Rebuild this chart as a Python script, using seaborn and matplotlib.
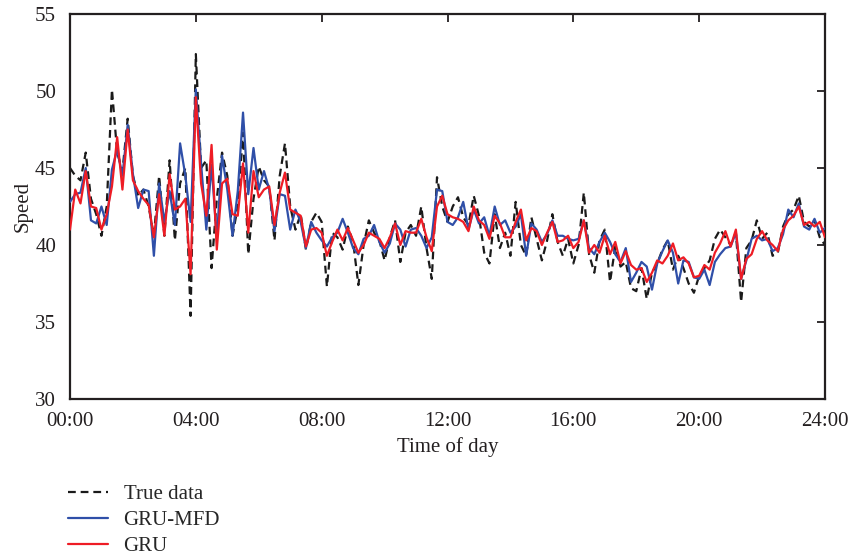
import numpy as np
import pandas as pd
import matplotlib
matplotlib.use("Agg")
import matplotlib.pyplot as plt
import seaborn as sns

# 10-minute samples over one day (145 points, 00:00 .. 24:00)
true_data = [
    45.0, 44.5, 44.2, 46.0, 43.0, 42.0, 40.6, 42.5, 50.1, 46.0, 44.8, 48.2,
    44.5, 43.2, 43.6, 42.5, 40.6, 44.5, 40.6, 45.5, 40.3, 44.0, 45.0, 35.4,
    52.4, 45.0, 45.5, 38.5, 43.0, 46.0, 44.5, 40.6, 42.5, 47.3, 39.4, 43.0,
    45.1, 44.2, 43.8, 40.3, 44.5, 46.6, 42.5, 41.0, 42.0, 39.7, 41.5, 42.1,
    41.5, 37.3, 40.8, 40.5, 39.7, 41.2, 40.2, 37.4, 40.0, 41.6, 40.8, 40.3,
    39.0, 40.5, 41.6, 38.9, 40.8, 41.3, 40.6, 42.5, 39.8, 37.8, 44.4, 42.5,
    41.5, 42.5, 43.1, 41.8, 41.3, 43.2, 41.9, 39.5, 38.8, 42.0, 39.8, 40.8,
    39.3, 42.8, 40.0, 39.3, 41.8, 40.4, 39.0, 40.3, 42.0, 40.2, 39.3, 40.4,
    38.8, 40.0, 43.4, 39.4, 38.2, 40.3, 41.0, 37.6, 39.9, 38.6, 38.9, 37.2,
    37.0, 38.5, 36.5, 38.2, 38.8, 39.7, 40.3, 38.4, 39.3, 38.5, 37.5, 36.9,
    38.0, 38.5, 39.0, 40.4, 41.0, 40.5, 40.0, 40.8, 36.3, 39.8, 40.3, 41.6,
    40.4, 40.8, 39.3, 39.5, 41.2, 42.0, 42.3, 43.2, 41.5, 41.2, 41.6, 40.5,
    40.0,
]
gru_mfd = [
    42.8, 43.3, 43.4, 45.0, 41.6, 41.4, 42.5, 41.3, 44.9, 46.2, 44.5, 47.8,
    44.6, 42.4, 43.6, 43.5, 39.3, 44.0, 41.5, 43.5, 41.3, 46.6, 44.5, 41.5,
    50.1, 45.3, 41.0, 45.2, 40.4, 45.8, 43.6, 40.6, 43.5, 48.6, 43.3, 46.3,
    43.6, 44.8, 43.6, 40.9, 43.3, 43.2, 41.0, 42.3, 41.5, 39.8, 41.5, 40.8,
    40.3, 39.9, 40.5, 40.8, 41.7, 40.8, 39.8, 39.4, 40.4, 40.6, 41.3, 40.2,
    39.5, 40.1, 41.4, 41.0, 39.9, 41.0, 41.1, 40.6, 39.8, 40.5, 43.6, 43.5,
    41.5, 41.3, 41.8, 42.8, 41.0, 42.3, 41.4, 41.8, 40.6, 42.5, 41.3, 41.6,
    40.8, 41.2, 42.0, 39.3, 41.4, 41.0, 40.2, 40.7, 41.6, 40.6, 40.6, 40.4,
    40.3, 40.4, 41.6, 39.8, 39.4, 40.2, 40.8, 40.2, 39.4, 38.9, 39.8, 37.6,
    38.2, 38.9, 38.6, 37.1, 38.8, 39.6, 40.3, 39.5, 37.5, 39.0, 38.9, 37.9,
    37.8, 38.4, 37.4, 38.9, 39.4, 39.8, 39.9, 40.8, 37.8, 39.0, 40.4, 40.6,
    40.3, 40.4, 39.6, 39.8, 40.7, 42.3, 41.8, 42.7, 41.2, 41.0, 41.7, 40.8,
    41.1,
]
gru = [
    41.0, 43.6, 42.7, 44.8, 42.5, 42.4, 41.0, 42.0, 43.8, 47.0, 43.6, 47.5,
    44.2, 43.5, 43.0, 42.6, 40.5, 43.3, 40.6, 44.6, 42.3, 42.5, 43.0, 38.1,
    49.6, 44.0, 41.9, 46.5, 39.7, 44.0, 44.3, 42.0, 41.9, 45.3, 40.8, 44.8,
    43.1, 43.6, 43.8, 41.3, 43.4, 44.7, 42.3, 42.1, 41.9, 39.9, 41.0, 41.1,
    40.8, 39.3, 40.2, 41.0, 40.3, 41.1, 40.3, 39.5, 40.0, 40.8, 40.6, 40.4,
    39.8, 40.5, 41.4, 40.0, 40.9, 40.8, 40.8, 41.7, 40.5, 39.6, 42.5, 43.2,
    42.0, 41.8, 41.7, 41.5, 40.9, 42.5, 41.6, 41.3, 40.4, 41.9, 41.4, 40.5,
    40.5, 41.5, 42.3, 40.3, 41.1, 40.9, 40.0, 40.8, 41.5, 40.2, 40.3, 40.6,
    39.8, 40.2, 41.6, 39.5, 40.0, 39.5, 40.6, 39.4, 40.2, 38.8, 39.6, 38.7,
    38.4, 38.5, 37.6, 38.2, 39.0, 38.8, 39.3, 40.1, 39.0, 39.2, 38.8, 37.9,
    38.0, 38.7, 38.4, 39.5, 40.1, 40.9, 39.9, 41.0, 37.8, 39.1, 39.4, 40.4,
    40.9, 40.3, 40.0, 39.6, 41.0, 41.6, 41.9, 42.5, 41.3, 41.5, 41.2, 41.5,
    40.5,
]
tick_labels = ["00:00", "04:00", "08:00", "12:00", "16:00", "20:00", "24:00"]
series_names = ["True data", "GRU-MFD", "GRU"]

hours = np.arange(len(true_data)) / 6.0

sns.set_theme(style="white")
plt.rcParams["font.family"] = ["Liberation Serif", "DejaVu Serif"]

fig = plt.figure(figsize=(8.49, 5.57), dpi=100)
ax = fig.add_axes([70 / 849, 1 - 399 / 557, 755 / 849, 385 / 557])

df = pd.DataFrame({"t": hours, "true": true_data, "mfd": gru_mfd, "gru": gru})

sns.lineplot(data=df, x="t", y="true", ax=ax, color="#1a1a1a", lw=1.6,
             linestyle=(0, (3.5, 2.2)), label=series_names[0], zorder=2)
sns.lineplot(data=df, x="t", y="mfd", ax=ax, color="#2f4fa8", lw=1.6,
             label=series_names[1], zorder=3)
sns.lineplot(data=df, x="t", y="gru", ax=ax, color="#ee1c25", lw=1.6,
             label=series_names[2], zorder=4)

ax.set_xlim(0, 24)
ax.set_ylim(30, 55)
ax.set_xticks(np.arange(0, 25, 4))
ax.set_xticklabels(tick_labels)
ax.set_yticks(np.arange(30, 56, 5))
ax.tick_params(direction="in", length=6, width=1.3, top=True, right=True,
               labelsize=15, colors="#231f20")
ax.tick_params(axis="x", pad=9)
ax.tick_params(axis="y", pad=10)
for s in ax.spines.values():
    s.set_linewidth(1.6)
    s.set_color("#231f20")
ax.set_xlabel("Time of day", fontsize=15, color="#231f20", labelpad=5)
ax.set_ylabel("Speed", fontsize=15, color="#231f20", labelpad=2)

handles, labels = ax.get_legend_handles_labels()
ax.get_legend().remove()
fig.legend(handles, labels, loc="upper left", bbox_to_anchor=(60 / 849, 1 - 476 / 557),
           frameon=False, fontsize=15, handlelength=1.9, labelspacing=0.32,
           handletextpad=0.75, borderaxespad=0)

fig.savefig("out.png", dpi=100)
